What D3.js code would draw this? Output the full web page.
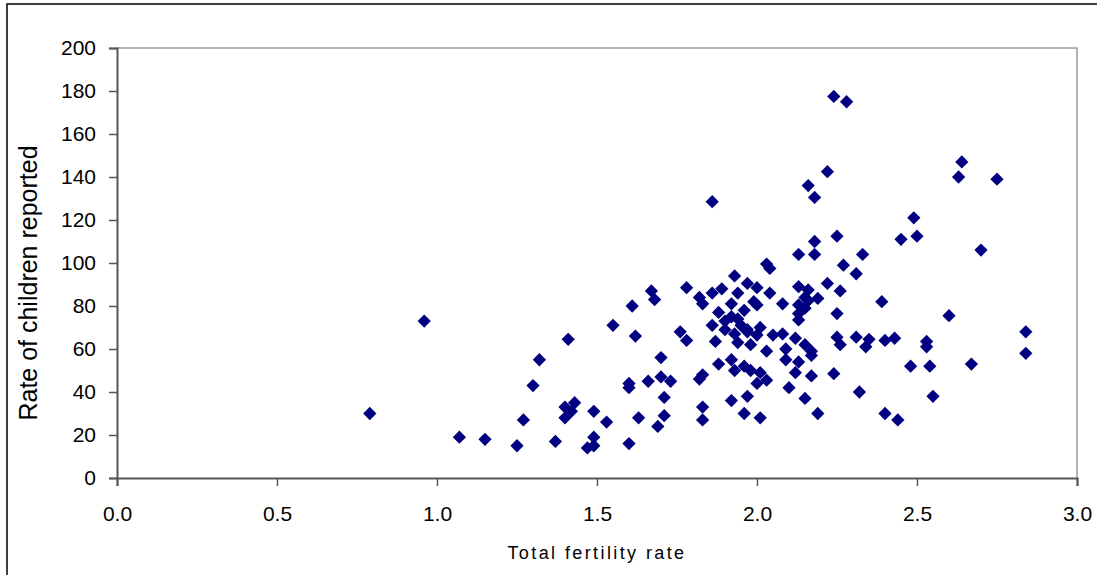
<!DOCTYPE html>
<html>
<head>
<meta charset="utf-8">
<script src="https://cdn.jsdelivr.net/npm/d3@7"></script>
<style>
  body { margin: 0; background: #fff; }
  text { font-family: "Liberation Sans", Arial, sans-serif; }
</style>
</head>
<body>
<div id="chart"></div>
<script>
// fertility rate vs rate of children reported, one pair per point
var fertility = [0.79,0.96,1.07,1.15,1.25,1.27,1.30,1.32,1.37,1.40,1.40,1.42,1.43,1.41,1.47,1.49,1.49,1.49,1.53,1.55,
  1.60,1.60,1.60,1.61,1.62,1.63,1.66,1.67,1.68,1.69,1.70,1.70,1.71,1.71,1.73,1.76,1.78,1.78,1.82,1.82,
  1.83,1.83,1.83,1.83,1.86,1.86,1.86,1.87,1.88,1.88,1.89,1.90,1.90,1.92,1.92,1.92,1.92,1.93,1.93,1.94,
  1.94,1.95,1.94,1.93,1.97,1.96,1.97,1.97,1.96,1.97,1.96,1.98,1.98,1.99,2.00,2.00,2.00,2.00,2.01,2.01,
  2.01,2.03,2.04,2.04,2.03,2.03,2.05,2.08,2.08,2.09,2.09,2.10,2.12,2.12,2.13,2.13,2.13,2.13,2.13,2.13,
  2.15,2.15,2.15,2.15,2.16,2.16,2.17,2.16,2.17,2.17,2.18,2.18,2.18,2.19,2.19,2.22,2.22,2.24,2.24,2.25,
  2.25,2.25,2.26,2.26,2.27,2.28,2.31,2.31,2.32,2.33,2.34,2.35,2.39,2.40,2.40,2.43,2.44,2.45,2.48,2.49,
  2.50,2.53,2.53,2.54,2.55,2.60,2.63,2.64,2.67,2.70,2.75,2.84,2.84];
var childRate = [30,73,19,18,15,27,43,55,17,33,28,31,35,64.5,14,15,19,31,26,71,
  16,44,42,80,66,28,45,87,83,24,56,47,37.5,29,45,68,64,88.5,84,46,
  48,33,27,81,86,128.5,71,63.5,53,77,88,73,69,81,75,55,36,94,50,86,
  74,71,63,67,90.5,78,69,68,52,38,30,62,50,82,88.5,80.5,66.5,44,70,49,
  28,99.5,97.5,86,59,45.5,66.5,67,81,60,55,42,65,49,104,89,80.5,76.5,73.5,54,
  84,79,62,37,87.5,82.5,59,136,57,47.5,130.5,110,104,83.5,30,142.5,90.5,177.5,48.5,112.5,
  76.5,65.5,62,87,99,175,95,65.5,40,104,61,64.5,82,64,30,65,27,111,52,121,
  112.5,63.5,61,52,38,75.5,140,147,53,106,139,68,58];

var xTicks = [0, 0.5, 1.0, 1.5, 2.0, 2.5, 3.0];
var yTicks = [0, 20, 40, 60, 80, 100, 120, 140, 160, 180, 200];

var W = 1097, H = 575;
var plotL = 117, plotR = 1077, plotT = 48, plotB = 478;

var points = fertility.map(function(f, i) { return {x: f, y: childRate[i]}; });

var svg = d3.select("#chart").append("svg")
    .attr("width", W)
    .attr("height", H);

// outer chart frame, runs past the window on right and bottom
svg.append("rect")
    .attr("x", 7).attr("y", 4)
    .attr("width", 1300).attr("height", 800)
    .attr("fill", "#fff")
    .attr("stroke", "#000")
    .attr("stroke-width", 1.5);

var x = d3.scaleLinear().domain([0, 3]).range([plotL, plotR]);
var y = d3.scaleLinear().domain([0, 200]).range([plotB, plotT]);

// plot area box (top + right in light grey)
svg.append("path")
    .attr("d", "M" + plotL + "," + plotT + "H" + plotR + "V" + plotB)
    .attr("fill", "none")
    .attr("stroke", "#9a9a9a")
    .attr("stroke-width", 1.5);

var yAxis = svg.append("g")
    .attr("transform", "translate(" + plotL + ",0)")
    .call(d3.axisLeft(y).tickValues(yTicks).tickSize(8).tickPadding(13).tickFormat(d3.format("d")));

var xAxis = svg.append("g")
    .attr("transform", "translate(0," + plotB + ")")
    .call(d3.axisBottom(x).tickValues(xTicks).tickSize(8).tickPadding(20).tickFormat(d3.format(".1f")));

[yAxis, xAxis].forEach(function(a) {
  a.select(".domain").attr("stroke", "#555").attr("stroke-width", 2);
  a.selectAll(".tick line").attr("stroke", "#555").attr("stroke-width", 1.5);
  a.selectAll(".tick text").attr("fill", "#000").style("font-size", "21px");
});

// markers
var diamond = d3.symbol().type(d3.symbolSquare).size(88);
svg.append("g").selectAll("path")
    .data(points)
    .enter().append("path")
    .attr("d", diamond)
    .attr("transform", function(d) { return "translate(" + x(d.x) + "," + y(d.y) + ")rotate(45)"; })
    .attr("fill", "#000080");

svg.append("text")
    .attr("transform", "translate(37,283)rotate(-90)")
    .attr("text-anchor", "middle")
    .style("font-size", "25px")
    .text("Rate of children reported");

svg.append("text")
    .attr("x", (plotL + plotR) / 2)
    .attr("y", 559)
    .attr("text-anchor", "middle")
    .style("font-size", "18px")
    .style("letter-spacing", "2.4px")
    .text("Total fertility rate");
</script>
</body>
</html>
